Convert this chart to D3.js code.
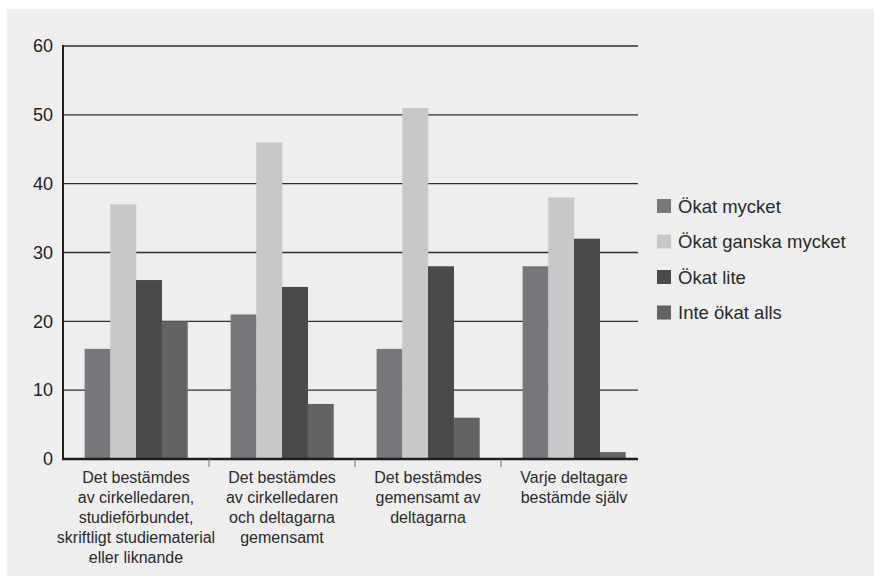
<!DOCTYPE html>
<html><head><meta charset="utf-8">
<script src="https://cdn.jsdelivr.net/npm/d3@7"></script>
<style>body{margin:0;background:#fff;} svg{display:block;font-family:"Liberation Sans",Arial,sans-serif;}</style>
</head><body><svg id="c" width="874" height="576"></svg>
<script>
const categories = [
  ["Det bestämdes","av cirkelledaren,","studieförbundet,","skriftligt studiematerial","eller liknande"],
  ["Det bestämdes","av cirkelledaren","och deltagarna","gemensamt"],
  ["Det bestämdes","gemensamt av","deltagarna"],
  ["Varje deltagare","bestämde själv"]
];
const seriesNames = ["Ökat mycket","Ökat ganska mycket","Ökat lite","Inte ökat alls"];
const okatMycket = [16,21,16,28];
const okatGanska = [37,46,51,38];
const okatLite = [26,25,28,32];
const inteOkat = [20,8,6,1];
const colors = ["#78787c","#c8c8ca","#4a4a4c","#636363"];
const yTicks = [0,10,20,30,40,50,60];

(function(){
const series = [okatMycket, okatGanska, okatLite, inteOkat];
const svg = d3.select("#c");
svg.append("rect").attr("x",7).attr("y",9).attr("width",874-7).attr("height",576-9).attr("fill","#eeeeee");

const pLeft = 63, pRight = 638, pTop = 46, pBottom = 459;
const x = d3.scaleBand().domain(d3.range(categories.length)).range([pLeft, pLeft + 146*4]).paddingInner(0).paddingOuter(0);
const xi = d3.scaleBand().domain(d3.range(series.length)).range([0, x.bandwidth()]).paddingInner(0).paddingOuter(0.84);
const y = d3.scaleLinear().domain([0,60]).range([pBottom, pTop]);

svg.append("g").selectAll("line").data(yTicks.filter(d=>d>0)).join("line")
  .attr("x1",pLeft).attr("x2",pRight).attr("y1",d=>y(d)).attr("y2",d=>y(d))
  .attr("stroke","#2e2e2e").attr("stroke-width",1.4);

const g = svg.append("g");
categories.forEach((c,ci)=>{
  series.forEach((s,si)=>{
    g.append("rect").attr("x", x(ci)+xi(si)).attr("width", xi.bandwidth()+0.3)
      .attr("y", y(s[ci])).attr("height", y(0)-y(s[ci])).attr("fill", colors[si]);
  });
});

const ya = d3.axisLeft(y).tickValues(yTicks).tickSize(0).tickPadding(10);
const yg = svg.append("g").attr("transform",`translate(${pLeft},0)`).call(ya);
yg.select(".domain").remove();
yg.selectAll("text").attr("font-size",18).attr("fill","#222").attr("font-family","Liberation Sans, Arial, sans-serif");
svg.append("line").attr("x1",pLeft).attr("x2",pLeft).attr("y1",pTop-1).attr("y2",pBottom+1).attr("stroke","#1e1e1e").attr("stroke-width",2);
svg.append("line").attr("x1",pLeft-1).attr("x2",pRight).attr("y1",pBottom).attr("y2",pBottom).attr("stroke","#1e1e1e").attr("stroke-width",2.5);
svg.append("g").selectAll("line").data(d3.range(1,categories.length)).join("line")
  .attr("x1",d=>x(d)).attr("x2",d=>x(d)).attr("y1",pBottom).attr("y2",pBottom+8)
  .attr("stroke","#777").attr("stroke-width",1);
categories.forEach((lines,ci)=>{
  const t = svg.append("text").attr("text-anchor","middle").attr("font-size",16).attr("fill","#2a2a2a");
  lines.forEach((ln,li)=>{
    t.append("tspan").attr("x", x(ci)+x.bandwidth()/2).attr("y", 483 + li*20).text(ln);
  });
});

const lg = svg.append("g").attr("transform","translate(657,199)");
seriesNames.forEach((n,i)=>{
  const r = lg.append("g").attr("transform",`translate(0,${i*35.5})`);
  r.append("rect").attr("width",14).attr("height",14).attr("fill",colors[i]);
  r.append("text").attr("x",21).attr("y",13.5).attr("font-size",18.5).attr("fill","#2a2a2a").text(n);
});
})();
</script></body></html>
